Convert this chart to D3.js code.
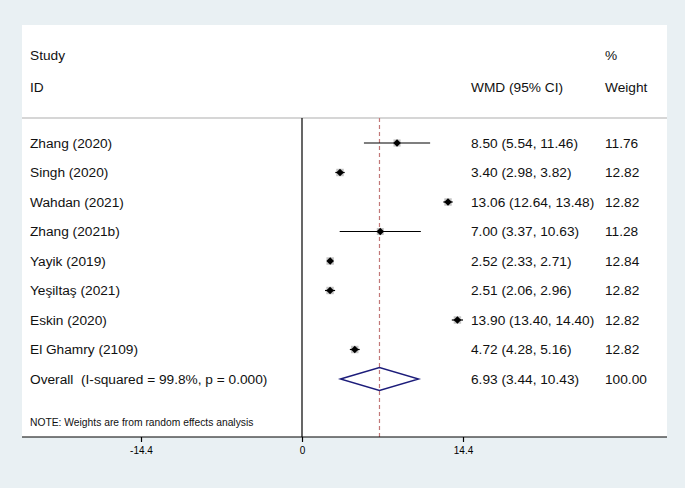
<!DOCTYPE html>
<html><head><meta charset="utf-8">
<script src="https://cdn.jsdelivr.net/npm/d3@7"></script>
<style>body{margin:0;background:#e9f0f3;} svg{display:block;font-family:"Liberation Sans",Arial,sans-serif;} text{white-space:pre;}</style>
</head><body><svg id="c" width="685" height="488"></svg>
<script>
const studies = ["Zhang (2020)","Singh (2020)","Wahdan (2021)","Zhang (2021b)","Yayik (2019)","Yeşiltaş (2021)","Eskin (2020)","El Ghamry (2109)"];
const wmd    = [8.50, 3.40, 13.06, 7.00, 2.52, 2.51, 13.90, 4.72];
const lower  = [5.54, 2.98, 12.64, 3.37, 2.33, 2.06, 13.40, 4.28];
const upper  = [11.46, 3.82, 13.48, 10.63, 2.71, 2.96, 14.40, 5.16];
const weights = [11.76, 12.82, 12.82, 11.28, 12.84, 12.82, 12.82, 12.82];
const overall = {label:"Overall  (I-squared = 99.8%, p = 0.000)", est:6.93, lo:3.44, hi:10.43, weight:100.00};
const xTicks = [-14.4, 0, 14.4];
const noteText = "NOTE: Weights are from random effects analysis";

const svg = d3.select("#c");
const panel = {l:22, r:667, t:25, b:437};
svg.append("rect").attr("x",panel.l).attr("y",panel.t).attr("width",panel.r-panel.l).attr("height",panel.b-panel.t).attr("fill","#fff");

const x = d3.scaleLinear().domain([0,14.4]).range([302,463]);
const rowLabels = studies.concat([overall.label]);
const y = d3.scalePoint().domain(d3.range(rowLabels.length)).range([143,379]);
const fs = 13.7;

const colID = 30, colES = 471, colW = 605;
function txt(xp, yp, s, size, anchor){ return svg.append("text").attr("x",xp).attr("y",yp).attr("dy","0.35em").attr("font-size",size||fs).attr("fill","#111").attr("text-anchor",anchor||"start").text(s); }
txt(colID,55,"Study"); txt(colID,87,"ID");
txt(colES,87,"WMD (95% CI)"); txt(colW,55,"%"); txt(colW,87,"Weight");

svg.append("line").attr("x1",panel.l).attr("x2",panel.r).attr("y1",118).attr("y2",118).attr("stroke","#c8c8c8").attr("stroke-width",1.5);

svg.append("line").attr("x1",x(0)).attr("x2",x(0)).attr("y1",118).attr("y2",panel.b).attr("stroke","#000").attr("stroke-width",1.2);
svg.append("line").attr("x1",x(overall.est)).attr("x2",x(overall.est)).attr("y1",118).attr("y2",panel.b).attr("stroke","#c27878").attr("stroke-width",1.2).attr("stroke-dasharray","4,3");

const boxSize = d3.scaleSqrt().domain([0,13]).range([0,7.5]);
studies.forEach((s,i)=>{
  const yy = y(i);
  txt(colID,yy,s);
  txt(colES,yy,`${wmd[i].toFixed(2)} (${lower[i].toFixed(2)}, ${upper[i].toFixed(2)})`);
  txt(colW,yy,weights[i].toFixed(2));
  const b = boxSize(weights[i]);
  svg.append("rect").attr("x",x(wmd[i])-b/2).attr("y",yy-b/2).attr("width",b).attr("height",b).attr("fill","#c4c4c4");
  svg.append("line").attr("x1",x(lower[i])).attr("x2",x(upper[i])).attr("y1",yy).attr("y2",yy).attr("stroke","#000").attr("stroke-width",1.2);
  const d=3.8;
  const cx=x(wmd[i]);
  svg.append("path").attr("d",`M${cx-d},${yy}L${cx},${yy-d}L${cx+d},${yy}L${cx},${yy+d}Z`).attr("fill","#000");
});
const oy = y(studies.length);
txt(colID,oy,overall.label);
txt(colES,oy,`${overall.est.toFixed(2)} (${overall.lo.toFixed(2)}, ${overall.hi.toFixed(2)})`);
txt(colW,oy,overall.weight.toFixed(2));
svg.append("path").attr("d",`M${x(overall.lo)},${oy}L${x(overall.est)},${oy-11.5}L${x(overall.hi)},${oy}L${x(overall.est)},${oy+11.5}Z`).attr("fill","none").attr("stroke","#1c1c7a").attr("stroke-width",1.4);

txt(colID,422,noteText,10.3);

const ax = svg.append("g").attr("transform",`translate(0,${panel.b})`).call(d3.axisBottom(x).tickValues(xTicks).tickFormat(d => String(d)).tickSize(5).tickSizeOuter(0));
ax.select(".domain").remove();
ax.append("line").attr("x1",panel.l).attr("x2",panel.r).attr("stroke","#000").attr("stroke-width",1.2);
ax.selectAll(".tick line").attr("stroke","#000").attr("stroke-width",1.2);
ax.selectAll(".tick text").attr("font-size",10).attr("fill","#000").attr("font-family","Liberation Sans, Arial, sans-serif").attr("dy","0.71em").attr("y",10);
</script></body></html>
